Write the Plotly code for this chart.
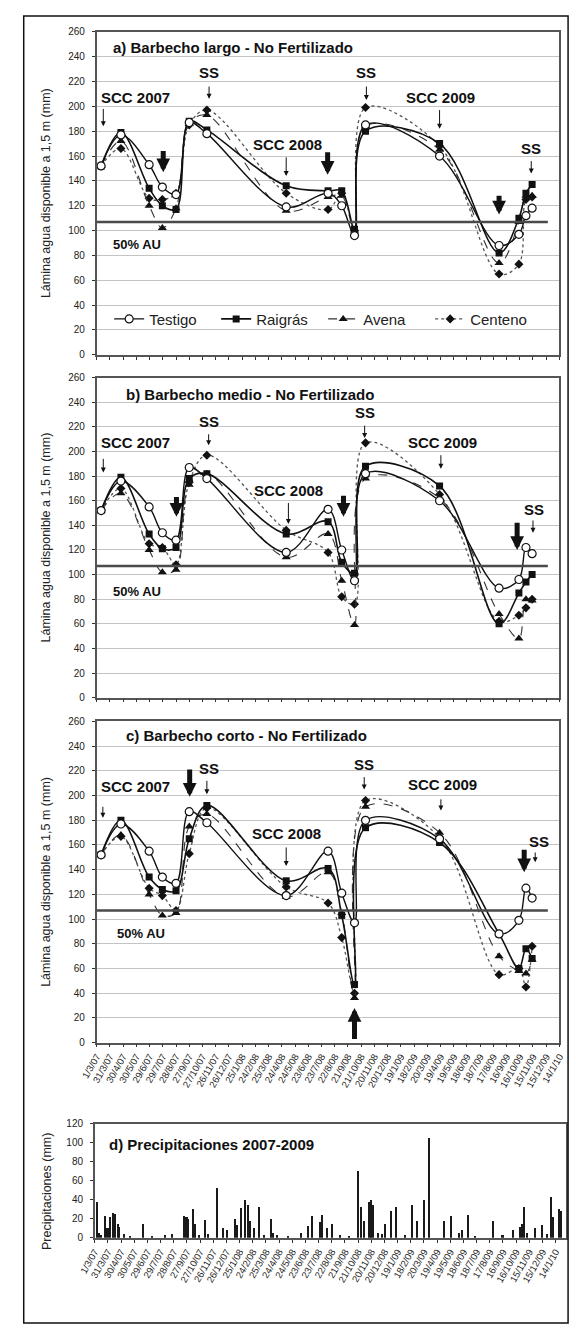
import plotly.graph_objects as go
from datetime import date

W, H = 576, 1332

# ---------------- data ----------------
tick_labels = ["1/3/07", "31/3/07", "30/4/07", "30/5/07", "29/6/07", "29/7/07", "28/8/07",
               "27/9/07", "27/10/07", "26/11/07", "26/12/07", "25/1/08", "24/2/08", "25/3/08",
               "24/4/08", "24/5/08", "23/6/08", "23/7/08", "22/8/08", "21/9/08", "21/10/08",
               "20/11/08", "20/12/08", "19/1/09", "18/2/09", "20/3/09", "19/4/09", "19/5/09",
               "18/6/09", "18/7/09", "17/8/09", "16/9/09", "16/10/09", "15/11/09", "15/12/09",
               "14/1/10"]

sample_dates = ["2007-03-11", "2007-04-25", "2007-06-28", "2007-07-28", "2007-08-28",
                "2007-09-27", "2007-11-06", "2008-05-04", "2008-08-07", "2008-09-07",
                "2008-10-06", "2008-10-31", "2009-04-17", "2009-08-30", "2009-10-14",
                "2009-10-30", "2009-11-13"]

series_names = ["Testigo", "Raigrás", "Avena", "Centeno"]

# a) Barbecho largo
a_testigo = [152, 177, 153, 135, 129, 187, 178, 119, 130, 120, 96, 185, 160, 88, 97, 112, 118]
a_raigras = [152, 179, 134, 120, 117, 188, 181, 136, 132, 132, 101, 180, 170, 82, 110, 130, 137]
a_avena   = [152, 172, 120, 102, 118, 186, 193, 116, 127, 128, 100, 184, 165, 74, 107, 128, 128]
a_centeno = [152, 166, 126, 125, 130, 185, 197, 130, 117, 130, 100, 199, 168, 65, 73, 125, 127]

# b) Barbecho medio
b_testigo = [152, 176, 155, 134, 128, 187, 178, 118, 153, 120, 95, 182, 160, 89, 96, 122, 117]
b_raigras = [152, 179, 133, 121, 122, 178, 182, 133, 143, 110, 101, 188, 172, 60, 85, 94, 100]
b_avena   = [152, 166, 120, 102, 104, 173, 182, 114, 133, 95, 59, 178, 162, 68, 48, 80, 79]
b_centeno = [152, 170, 125, 122, 108, 175, 197, 136, 118, 82, 76, 207, 165, 62, 67, 73, 80]

# c) Barbecho corto
c_testigo = [152, 177, 155, 134, 129, 187, 178, 119, 155, 121, 97, 180, 165, 88, 99, 125, 117]
c_raigras = [152, 180, 134, 124, 123, 165, 192, 131, 141, 103, 47, 174, 162, 88, 60, 76, 68]
c_avena   = [152, 168, 120, 103, 105, 175, 185, 118, 138, 105, 36, 191, 170, 70, 58, 56, 67]
c_centeno = [152, 167, 125, 119, 107, 153, 190, 126, 113, 85, 40, 196, 166, 55, 60, 45, 78]

# d) Precipitaciones
precip_dates = ["2007-03-07", "2007-03-11", "2007-03-15", "2007-03-25", "2007-03-30", "2007-04-04",
                "2007-04-12", "2007-04-17", "2007-04-22", "2007-04-26", "2007-05-07", "2007-05-20",
                "2007-06-20", "2007-07-10", "2007-08-08", "2007-08-24", "2007-09-20", "2007-09-26",
                "2007-09-30", "2007-10-10", "2007-10-16", "2007-10-25", "2007-11-07", "2007-11-15",
                "2007-12-05", "2007-12-19", "2007-12-27", "2008-01-14", "2008-01-19", "2008-01-28",
                "2008-02-07", "2008-02-13", "2008-02-18", "2008-02-26", "2008-03-10", "2008-03-20",
                "2008-04-05", "2008-04-10", "2008-04-19", "2008-05-15", "2008-06-12", "2008-06-28",
                "2008-07-09", "2008-07-26", "2008-07-31", "2008-08-11", "2008-08-22", "2008-09-10",
                "2008-10-01", "2008-10-21", "2008-10-27", "2008-11-04", "2008-11-16", "2008-11-20",
                "2008-11-25", "2008-12-06", "2008-12-15", "2008-12-22", "2009-01-05", "2009-01-16",
                "2009-02-05", "2009-02-20", "2009-03-05", "2009-03-21", "2009-04-01", "2009-05-05",
                "2009-05-21", "2009-06-08", "2009-06-14", "2009-06-28", "2009-07-15", "2009-08-25",
                "2009-09-15", "2009-10-09", "2009-10-25", "2009-10-30", "2009-11-03", "2009-11-10",
                "2009-11-28", "2009-12-14", "2009-12-25", "2010-01-03", "2010-01-08", "2010-01-21",
                "2010-01-27"]
precip_mm = [38, 5, 3, 23, 10, 22,
             26, 25, 15, 12, 4, 2,
             15, 2, 3, 4, 23, 22,
             20, 30, 15, 3, 19, 4,
             53, 10, 8, 20, 14, 32,
             40, 35, 18, 10, 33, 3,
             20, 5, 3, 2, 5, 13,
             23, 17, 24, 10, 15, 3,
             2, 70, 33, 18, 38, 40,
             35, 5, 4, 15, 28, 33,
             3, 35, 18, 40, 105, 18,
             23, 5, 8, 24, 2, 18,
             3, 8, 12, 15, 33, 5,
             10, 14, 4, 43, 22, 30,
             28]

AU50 = 107  # 50% agua útil

# ---------------- helpers ----------------
FONT = "Liberation Sans, Arial, sans-serif"


def py(p):
    return 1 - p / H


def lab2date(s):
    d, m, y = s.split("/")
    return date(2000 + int(y), int(m), int(d)).isoformat()


tick_vals = [lab2date(s) for s in tick_labels]

panels = [
    dict(n="", top=26, bot=352, data=(a_testigo, a_raigras, a_avena, a_centeno)),
    dict(n="2", top=375, bot=698, data=(b_testigo, b_raigras, b_avena, b_centeno)),
    dict(n="3", top=722, bot=1046, data=(c_testigo, c_raigras, c_avena, c_centeno)),
]

styles = {
    "Testigo": dict(line=dict(color="#111", width=1.4),
                    marker=dict(symbol="circle", size=8, color="white",
                                line=dict(color="#111", width=1.2))),
    "Raigrás": dict(line=dict(color="#111", width=1.6),
                    marker=dict(symbol="square", size=7, color="#111")),
    "Avena": dict(line=dict(color="#333", width=1.1, dash="dash"),
                  marker=dict(symbol="triangle-up", size=8, color="#111")),
    "Centeno": dict(line=dict(color="#555", width=1.3, dash="dot"),
                    marker=dict(symbol="diamond", size=7, color="#111")),
}
draw_order = ["Centeno", "Avena", "Raigrás", "Testigo"]
rank = {n: i for i, n in enumerate(series_names)}

fig = go.Figure()

for pi, p in enumerate(panels):
    vals = dict(zip(series_names, p["data"]))
    for name in draw_order:
        st = styles[name]
        fig.add_trace(go.Scatter(
            x=sample_dates, y=vals[name], name=name, mode="lines+markers",
            line=dict(shape="spline", smoothing=1.0, **st["line"]),
            marker=st["marker"], showlegend=(pi == 0), legendrank=rank[name],
            xaxis="x" + p["n"], yaxis="y" + p["n"]))

fig.add_trace(go.Bar(x=precip_dates, y=precip_mm, width=3.5 * 86400000,
                     marker=dict(color="#1a1a1a", line=dict(width=0)),
                     showlegend=False, xaxis="x4", yaxis="y4"))

xr = ["2007-03-01", "2010-01-14"]
xr4 = ["2007-03-01", "2010-02-07"]
ytickfont = dict(family=FONT, size=10, color="#222")
xtickfont = dict(family=FONT, size=9.5, color="#222")

layout = dict(
    width=W, height=H, margin=dict(l=0, r=0, t=0, b=0),
    paper_bgcolor="white", plot_bgcolor="white",
    font=dict(family=FONT, color="#111"),
    bargap=0,
    legend=dict(orientation="h", x=96 / W, y=py(316), xanchor="left", yanchor="middle",
                bgcolor="rgba(0,0,0,0)", font=dict(family=FONT, size=15, color="#222"),
                entrywidth=62, entrywidthmode="pixels", tracegroupgap=0),
)

for p in panels:
    n = p["n"]
    layout["xaxis" + n] = dict(
        type="date", range=xr, domain=[83 / W, 565 / W], anchor="y" + n,
        tickvals=tick_vals, ticktext=tick_labels, ticks="outside", ticklen=3,
        tickcolor="#333", showticklabels=(n == "3"), tickangle=-60, tickfont=xtickfont,
        showgrid=False, showline=True, mirror=True, linecolor="#555", linewidth=1.5,
        zeroline=False)
    layout["yaxis" + n] = dict(
        range=[0, 260], domain=[py(p["bot"]), py(p["top"])], anchor="x" + n,
        dtick=20, tick0=0, ticks="outside", ticklen=3, tickcolor="#333", tickfont=ytickfont,
        ticklabelstandoff=5,
        showgrid=True, gridcolor="#c4c4c4", gridwidth=1, showline=True, mirror=True,
        linecolor="#555", linewidth=1.5, zeroline=False)

layout["xaxis4"] = dict(
    type="date", range=xr4, domain=[81 / W, 572 / W], anchor="y4",
    tickvals=tick_vals, ticktext=tick_labels, ticks="outside", ticklen=3, tickcolor="#333",
    showticklabels=True, tickangle=-60, tickfont=xtickfont, showgrid=False, showline=True,
    mirror=True, linecolor="#555", linewidth=1.5, zeroline=False)
layout["yaxis4"] = dict(
    range=[0, 120], domain=[py(1243), py(1128)], anchor="x4", dtick=20, tick0=0,
    ticks="outside", ticklen=3, tickcolor="#333", tickfont=ytickfont, ticklabelstandoff=5,
    showgrid=False, showline=True, mirror=True, linecolor="#555", linewidth=1.5,
    zeroline=False)

fig.update_layout(**layout)

# ---------------- annotations ----------------
ann = []
shapes = []
SC = 326 / 260.0  # px per mm in panels a-c
BIG = 15


def txt(n, x, y, s, size=BIG, xanchor="center", xdomain=False):
    ann.append(dict(xref=("x" + n + " domain") if xdomain else "x" + n, yref="y" + n,
                    x=x, y=y, text="<b>" + s + "</b>", showarrow=False, xanchor=xanchor,
                    yanchor="middle", font=dict(family=FONT, size=size, color="#111")))


def arr(n, x, head, tail, thick=False, sc=SC):
    ann.append(dict(xref="x" + n, yref="y" + n, x=x, y=head, text="", showarrow=True,
                    ax=0, ay=-(tail - head) * sc, arrowhead=2,
                    arrowwidth=5 if thick else 1, arrowsize=0.55 if thick else 1.0,
                    arrowcolor="#111"))


# panel a
txt("", 0.032, 247, "a) Barbecho largo - No Fertilizado", xanchor="left", xdomain=True)
txt("", 0.006, 207, "SCC 2007", xanchor="left", xdomain=True)
arr("", "2007-03-16", 184, 199)
txt("", "2007-11-11", 227, "SS")
arr("", "2007-11-11", 206, 217)
txt("", "2008-11-02", 227, "SS")
arr("", "2008-11-02", 205, 217)
txt("", "2008-05-06", 169, "SCC 2008")
arr("", "2008-05-04", 144, 160)
txt("", "2009-04-19", 207, "SCC 2009")
arr("", "2009-04-17", 182, 198)
txt("", "2009-11-11", 166, "SS")
arr("", "2009-11-11", 146, 157)
arr("", "2007-07-30", 147, 165, thick=True)
arr("", "2008-08-06", 145, 164, thick=True)
arr("", "2009-08-30", 113, 129, thick=True)
txt("", 0.03, 89, "50% AU", size=13, xanchor="left", xdomain=True)

# panel b
txt("2", 0.058, 246, "b) Barbecho medio - No Fertilizado", xanchor="left", xdomain=True)
txt("2", 0.006, 207, "SCC 2007", xanchor="left", xdomain=True)
arr("2", "2007-03-16", 183, 195)
txt("2", "2007-11-10", 224, "SS")
arr("2", "2007-11-10", 205, 215)
txt("2", "2008-10-29", 232, "SS")
arr("2", "2008-10-29", 211, 222)
txt("2", "2008-05-09", 168, "SCC 2008")
arr("2", "2008-05-09", 141, 159)
txt("2", "2009-04-24", 207, "SCC 2009")
arr("2", "2009-04-20", 186, 198)
txt("2", "2009-11-18", 153, "SS")
arr("2", "2009-11-15", 134, 145)
arr("2", "2007-08-29", 147, 164, thick=True)
arr("2", "2008-09-11", 147, 165, thick=True)
arr("2", "2009-10-10", 120, 143, thick=True)
txt("2", 0.03, 86, "50% AU", size=13, xanchor="left", xdomain=True)

# panel c
txt("3", 0.058, 249, "c) Barbecho corto - No Fertilizado", xanchor="left", xdomain=True)
txt("3", 0.004, 207, "SCC 2007", xanchor="left", xdomain=True)
arr("3", "2007-03-15", 182, 192)
arr("3", "2007-09-28", 199, 222, thick=True)
txt("3", "2007-11-10", 222, "SS")
arr("3", "2007-11-06", 201, 213)
txt("3", "2008-10-28", 225, "SS")
arr("3", "2008-10-28", 205, 216)
txt("3", "2008-05-04", 169, "SCC 2008")
arr("3", "2008-05-04", 143, 159)
txt("3", "2009-04-24", 209, "SCC 2009")
arr("3", "2009-04-20", 188, 198)
arr("3", "2008-10-06", 28, 2, thick=True)
arr("3", "2009-10-26", 138, 157, thick=True)
txt("3", "2009-11-28", 163, "SS")
arr("3", "2009-11-20", 146, 155)
txt("3", 0.04, 88, "50% AU", size=13, xanchor="left", xdomain=True)

# panel d
txt("4", 0.027, 98, "d) Precipitaciones 2007-2009", xanchor="left", xdomain=True)

# y-axis titles
for yc in [(26 + 352) / 2, (375 + 698) / 2, (722 + 1046) / 2]:
    ann.append(dict(xref="paper", yref="paper", x=30 / W, y=py(yc), showarrow=False,
                    xanchor="center", yanchor="middle",
                    text="Lámina agua disponible a 1,5 m (mm)", textangle=-90,
                    font=dict(family=FONT, size=12.5, color="#222")))
ann.append(dict(xref="paper", yref="paper", x=31 / W, y=py(1196), showarrow=False,
                xanchor="center", yanchor="middle",
                text="Precipitaciones (mm)", textangle=-90,
                font=dict(family=FONT, size=12.5, color="#222")))

# 50% AU lines
for n in ["", "2", "3"]:
    shapes.append(dict(type="line", xref="x" + n + " domain", yref="y" + n,
                       x0=0, x1=0.975, y0=AU50, y1=AU50,
                       line=dict(color="#4a4a4a", width=2.5)))

# outer frame
shapes.append(dict(type="rect", xref="paper", yref="paper", x0=7 / W, x1=574 / W,
                   y0=py(1329), y1=py(10), line=dict(color="#111", width=1.5)))

fig.update_layout(annotations=ann, shapes=shapes)

fig.write_html("out.html")
